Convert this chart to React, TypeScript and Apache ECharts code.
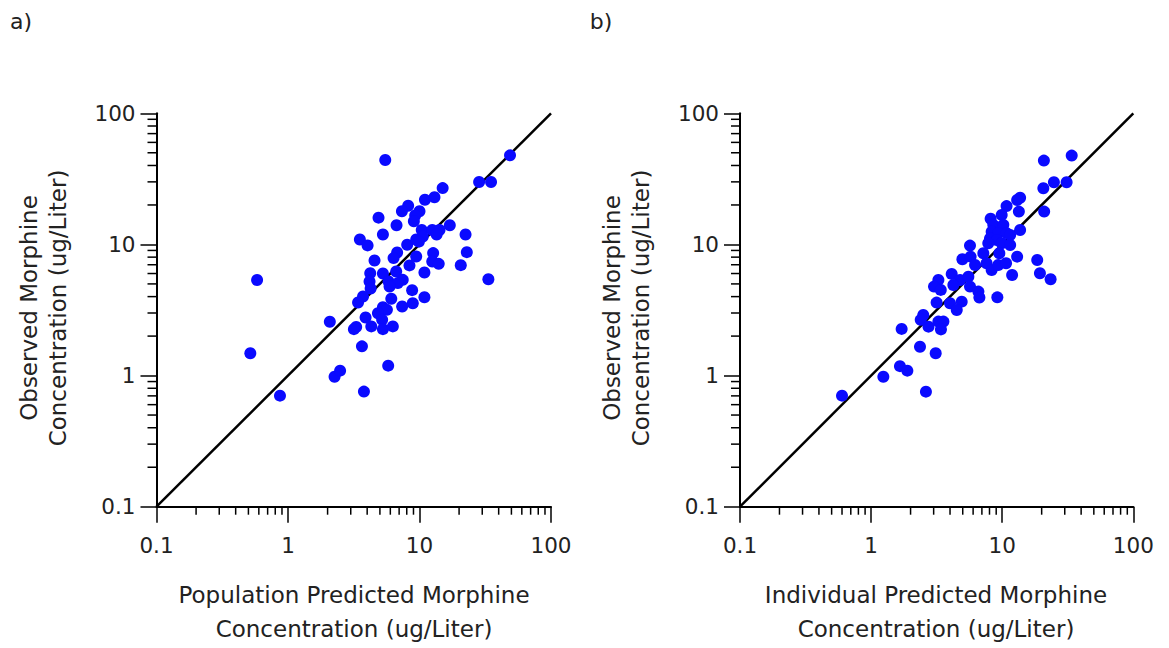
import React, { useEffect, useRef } from "react";
import * as echarts from "echarts";

// ---- axis decoration values ----
const AXIS_MIN = 0.1;
const AXIS_MAX = 100;
const MINOR_TICKS = [
  0.2, 0.3, 0.4, 0.5, 0.6, 0.7, 0.8, 0.9,
  2, 3, 4, 5, 6, 7, 8, 9,
  20, 30, 40, 50, 60, 70, 80, 90,
];
const IDENTITY = [0.1, 100];

// ---- panel a: population predicted vs observed ----
const popPred = [
  5.49, 48.8, 28.4, 35.0, 15.0, 11.0, 13.0, 8.2, 7.35, 10.0,
  9.27, 9.06, 4.88, 6.69, 17.0, 10.4, 12.5, 14.2, 13.5, 5.27,
  22.4, 3.52, 4.03, 8.06, 9.44, 10.6, 6.76, 6.35, 4.55, 12.7,
  22.9, 9.44, 8.39, 12.5, 14.0, 20.6, 4.22, 5.27, 6.65, 10.9,
  4.17, 5.82, 7.46, 6.84, 5.92, 33.4, 0.582, 4.25, 8.79, 6.10,
  3.72, 3.41, 8.89, 10.9, 7.38, 5.27, 5.65, 4.83, 2.08, 3.89,
  5.20, 4.30, 5.27, 6.27, 3.30, 3.17, 3.65, 0.517, 5.78, 2.26,
  2.49, 3.78, 0.869, 9.89,
];
const popObs = [
  44.0, 47.8, 29.9, 29.9, 26.9, 21.9, 22.9, 19.7, 17.9, 17.9,
  16.6, 15.0, 16.0, 14.0, 14.0, 12.9, 12.9, 12.9, 11.9, 11.9,
  11.9, 10.9, 9.83, 9.94, 10.9, 11.5, 8.69, 7.87, 7.55, 8.59,
  8.73, 8.09, 6.92, 7.41, 7.11, 6.95, 6.04, 6.01, 6.22, 6.11,
  5.22, 5.22, 5.37, 5.07, 4.78, 5.43, 5.35, 4.61, 4.48, 3.85,
  4.01, 3.61, 3.56, 3.96, 3.36, 3.32, 3.17, 2.99, 2.57, 2.77,
  2.66, 2.37, 2.26, 2.37, 2.35, 2.26, 1.67, 1.48, 1.19, 0.98,
  1.09, 0.755, 0.703, 10.5,
];

// ---- panel b: individual predicted vs observed ----
const indPred = [
  33.9, 20.8, 24.8, 31.0, 20.6, 13.7, 13.0, 10.8, 20.9, 13.4,
  9.91, 8.16, 8.55, 10.2, 8.31, 9.33, 10.8, 8.07, 9.08, 7.83,
  9.91, 11.5, 13.7, 11.5, 5.68, 7.18, 9.51, 13.0, 4.97, 5.74,
  6.21, 7.60, 8.31, 9.33, 10.7, 18.5, 19.4, 23.4, 11.9, 4.12,
  4.77, 5.52, 3.26, 3.02, 3.40, 4.24, 5.68, 6.58, 6.70, 9.18,
  3.16, 4.00, 4.91, 4.50, 2.50, 2.39, 2.74, 3.26, 3.56, 3.41,
  1.71, 2.36, 3.11, 1.66, 1.89, 1.24, 2.62, 0.600,
];
const indObs = [
  47.6, 43.6, 29.8, 29.8, 26.8, 22.7, 21.8, 19.6, 17.8, 17.8,
  16.8, 15.7, 14.1, 14.1, 12.5, 12.2, 12.2, 11.1, 10.8, 10.2,
  10.2, 11.8, 12.9, 9.91, 9.80, 8.56, 8.56, 8.07, 7.71, 8.07,
  6.97, 7.18, 6.38, 6.97, 7.18, 7.60, 6.03, 5.42, 5.85, 5.96,
  5.36, 5.68, 5.36, 4.77, 4.50, 4.91, 4.77, 4.37, 3.93, 3.95,
  3.60, 3.56, 3.66, 3.16, 2.90, 2.66, 2.36, 2.58, 2.58, 2.25,
  2.27, 1.66, 1.48, 1.18, 1.09, 0.98, 0.754, 0.703,
];

const FONT = "DejaVu Sans";
const TEXT_COLOR = "#222";
const DOT_COLOR = "#0a0aff";

function fmt(v: number) {
  return String(+Number(v).toPrecision(4));
}

function makeAxes(idx: number) {
  const common = {
    type: "log",
    logBase: 10,
    min: AXIS_MIN,
    max: AXIS_MAX,
    gridIndex: idx,
    splitLine: { show: false },
    axisLine: { show: true, onZero: false, lineStyle: { color: "#000", width: 2 } },
    axisTick: { show: true, inside: false, length: 16, lineStyle: { color: "#000", width: 1.5 } },
    axisLabel: {
      color: TEXT_COLOR,
      fontFamily: FONT,
      fontSize: 21.5,
      formatter: (v: number) => fmt(v),
    },
  };
  const x = { ...common, axisLabel: { ...common.axisLabel, margin: 28 } };
  const y = { ...common, axisLabel: { ...common.axisLabel, margin: 21 } };
  return { x, y };
}

function minorTickSeries(idx: number, dir: "x" | "y") {
  return {
    type: "custom",
    xAxisIndex: idx,
    yAxisIndex: idx,
    clip: false,
    silent: true,
    z: 5,
    data: MINOR_TICKS.map((v) => (dir === "x" ? [v, AXIS_MIN] : [AXIS_MIN, v])),
    renderItem: (_p: any, api: any) => {
      const pt = api.coord([api.value(0), api.value(1)]);
      const shape =
        dir === "x"
          ? { x1: pt[0], y1: pt[1], x2: pt[0], y2: pt[1] + 8 }
          : { x1: pt[0] - 9, y1: pt[1], x2: pt[0], y2: pt[1] };
      return { type: "line", shape, style: { stroke: "#000", lineWidth: 1.5 } };
    },
  };
}

function panelSeries(idx: number, xs: number[], ys: number[]) {
  return [
    {
      type: "line",
      xAxisIndex: idx,
      yAxisIndex: idx,
      data: IDENTITY.map((v) => [v, v]),
      showSymbol: false,
      symbol: "none",
      lineStyle: { color: "#000", width: 2.5 },
      z: 2,
      silent: true,
    },
    {
      type: "scatter",
      xAxisIndex: idx,
      yAxisIndex: idx,
      data: xs.map((x, i) => [x, ys[i]]),
      symbol: "circle",
      symbolSize: 12,
      itemStyle: { color: DOT_COLOR, opacity: 1 },
      z: 3,
    },
    minorTickSeries(idx, "x"),
    minorTickSeries(idx, "y"),
  ];
}

export default function App() {
  const ref = useRef<HTMLDivElement>(null);
  useEffect(() => {
    if (!ref.current) return;
    const chart = echarts.init(ref.current, null, { renderer: "svg" });
    const a = makeAxes(0);
    const b = makeAxes(1);
    const textStyle = (text: string, size: number, lh?: number) => ({
      text,
      fill: TEXT_COLOR,
      font: `${size}px "${FONT}"`,
      fontFamily: FONT,
      fontSize: size,
      align: "center",
      verticalAlign: "middle",
      lineHeight: lh,
    });
    chart.setOption({
      animation: false,
      backgroundColor: "#fff",
      grid: [
        { left: 156.5, top: 113.3, width: 394.5, height: 393.4 },
        { left: 740, top: 113.3, width: 393.3, height: 393.4 },
      ],
      xAxis: [a.x, b.x],
      yAxis: [a.y, b.y],
      series: [...panelSeries(0, popPred, popObs), ...panelSeries(1, indPred, indObs)],
      graphic: [
        { type: "text", x: 21, y: 21, style: textStyle("a)", 22) },
        { type: "text", x: 601, y: 21, style: textStyle("b)", 22) },
        {
          type: "text",
          x: 43,
          y: 308,
          rotation: Math.PI / 2,
          style: textStyle("Observed Morphine\nConcentration (ug/Liter)", 23, 29),
        },
        {
          type: "text",
          x: 626,
          y: 308,
          rotation: Math.PI / 2,
          style: textStyle("Observed Morphine\nConcentration (ug/Liter)", 23, 29),
        },
        {
          type: "text",
          x: 354,
          y: 612,
          style: textStyle("Population Predicted Morphine\nConcentration (ug/Liter)", 23, 34),
        },
        {
          type: "text",
          x: 936,
          y: 612,
          style: textStyle("Individual Predicted Morphine\nConcentration (ug/Liter)", 23, 34),
        },
      ],
    });
    return () => chart.dispose();
  }, []);
  return (
    <div
      ref={ref}
      style={{ position: "absolute", left: 0, top: 0, width: 1169, height: 648, background: "#fff" }}
    />
  );
}
